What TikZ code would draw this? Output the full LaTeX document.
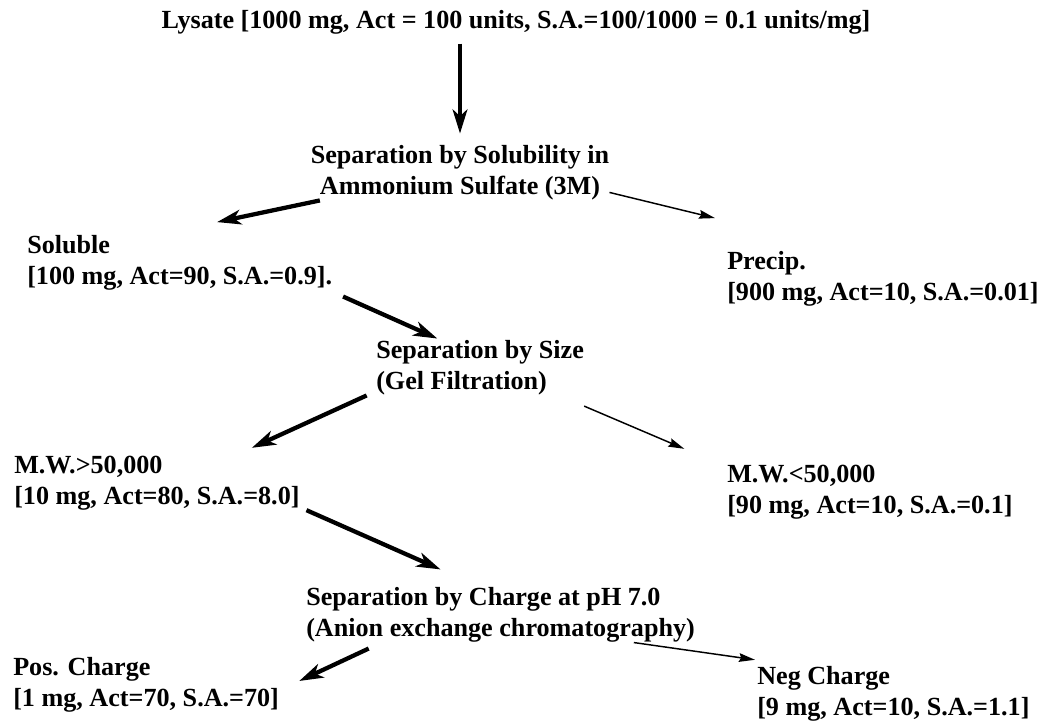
\documentclass[tikz,border=0pt]{standalone}
\usepackage{fontspec}
\setmainfont{Liberation Serif}
\usetikzlibrary{arrows.meta}
\begin{document}
\begin{tikzpicture}[x=0.75pt,y=-0.75pt,
  txt/.style={font=\bfseries\fontsize{19.6}{23}\selectfont,inner sep=0pt,align=left},
  main/.style={-{Stealth[length=18pt,width=11pt,inset=5pt]},line width=3.2pt},
  side/.style={-{Stealth[length=12pt,width=6.5pt,inset=1.5pt]},line width=1.1pt}]
\useasboundingbox (0,0) rectangle (1041,723);
% steps
\node[txt] (lysate) at (516,22) {Lysate [1000 mg, Act = 100 units, S.A.=100/1000 = 0.1 units/mg]};
\node[txt,align=center] (sep1) at (460,173) {Separation by Solubility in\\Ammonium Sulfate (3M)};
\node[txt,anchor=west] (sep2) at (376,368) {Separation by Size\\(Gel Filtration)};
\node[txt,anchor=west] (sep3) at (306,615) {Separation by Charge at pH 7.0\\(Anion exchange chromatography)};
% fractions
\node[txt,anchor=west] (soluble) at (27,263) {Soluble\\{[100 mg, Act=90, S.A.=0.9].}};
\node[txt,anchor=west] (precip) at (727,279) {Precip.\\{[900 mg, Act=10, S.A.=0.01]}};
\node[txt,anchor=west] (mwhigh) at (14,483) {M.W.>50,000\\{[10 mg, Act=80, S.A.=8.0]}};
\node[txt,anchor=west] (mwlow) at (727,492) {M.W.<50,000\\{[90 mg, Act=10, S.A.=0.1]}};
\node[txt,anchor=west] (pos) at (13,685) {Pos. Charge\\{[1 mg, Act=70, S.A.=70]}};
\node[txt,anchor=west] (neg) at (757,694) {Neg Charge\\{[9 mg, Act=10, S.A.=1.1]}};
% arrows
\draw[main,shorten <=7pt,shorten >=9pt] (lysate.south -| sep1.north) -- (sep1.north);
\draw[main] ([xshift=7pt]sep1.south west) -- ([xshift=28pt,yshift=10pt]soluble.north);
\draw[side] ([yshift=6pt]sep1.south east) -- ([xshift=-9pt,yshift=25pt]precip.north west);
\draw[main] ([xshift=8pt,yshift=-4.5pt]soluble.south east) -- ([xshift=46pt,yshift=1.5pt]sep2.north west);
\draw[main] ([xshift=-7pt]sep2.south west) -- ([xshift=-36pt,yshift=6pt]mwhigh.north east);
\draw[side] ([yshift=-8pt]sep2.south east) -- ([xshift=-32pt,yshift=12pt]mwlow.north west);
\draw[main] ([xshift=5pt]mwhigh.south east) -- ([xshift=-45pt,yshift=13.5pt]sep3.north);
\draw[main] ([xshift=47pt,yshift=-4.5pt]sep3.south west) -- ([xshift=15pt,yshift=3pt]pos.east);
\draw[side] ([xshift=-46pt]sep3.south east) -- ([xshift=-1.5pt,yshift=5pt]neg.north west);
\end{tikzpicture}
\end{document}
